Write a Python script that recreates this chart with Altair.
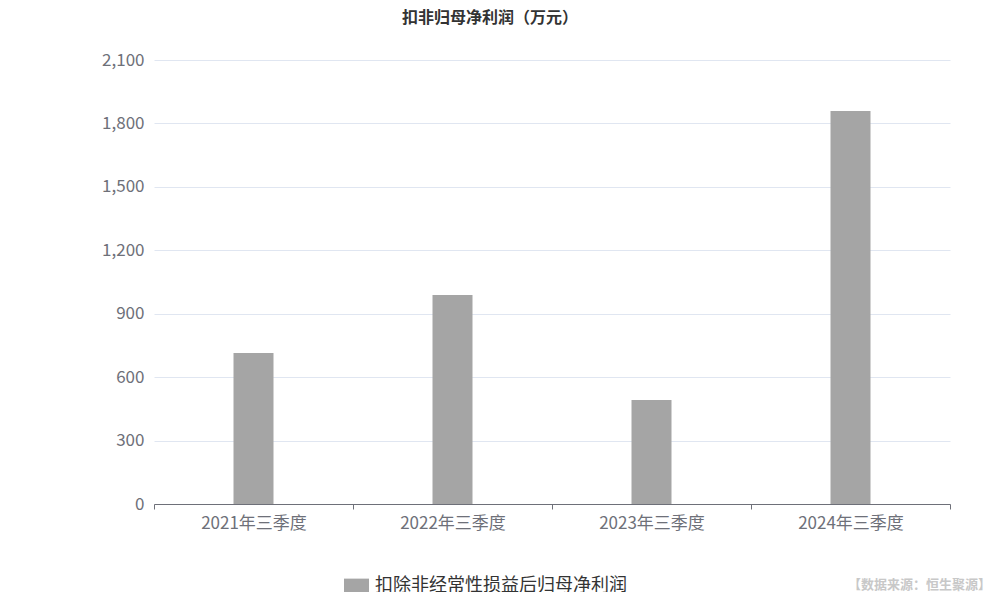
import altair as alt
import pandas as pd

categories = ["2021年三季度", "2022年三季度", "2023年三季度", "2024年三季度"]
values = [714, 988, 492, 1859]
series_name = "扣除非经常性损益后归母净利润"
title_text = "扣非归母净利润（万元）"
source_text = "【数据来源：恒生聚源】"
y_ticks = [0, 300, 600, 900, 1200, 1500, 1800, 2100]

FONT = "Noto Sans CJK SC"

df = pd.DataFrame({"period": categories, "value": values, "series": [series_name] * len(categories)})

W, H = 796, 444

bars = alt.Chart(df).mark_bar(size=40, color="#a5a5a5").encode(
    x=alt.X("period:N", sort=categories, title=None,
            scale=alt.Scale(paddingInner=0, paddingOuter=0),
            axis=alt.Axis(labelAngle=0, labelFontSize=17, labelColor="#6e7079", labelFont=FONT,
                          labelPadding=6, domainColor="#6e7079", tickColor="#6e7079",
                          tickSize=5, tickBand="extent", grid=False)),
    y=alt.Y("value:Q", title=None,
            scale=alt.Scale(domain=[0, 2100], nice=False),
            axis=alt.Axis(values=y_ticks, format=",d", labelFontSize=17, labelColor="#6e7079",
                          labelFont=FONT, labelPadding=10, domain=False, ticks=False,
                          grid=True, gridColor="#e0e6f1", gridWidth=1)),
    color=alt.Color("series:N", scale=alt.Scale(range=["#a5a5a5"]),
                    legend=alt.Legend(title=None, orient="none", legendX=190, legendY=513,
                                      direction="horizontal", labelFontSize=18, labelFont=FONT,
                                      labelColor="#333333", labelLimit=500,
                                      symbolType="M-1,-0.55 H1 V0.55 H-1 Z",
                                      symbolSize=625, symbolStrokeWidth=0, symbolOpacity=1,
                                      labelOffset=6)),
)

title_df = pd.DataFrame({"t": [title_text]})
title = alt.Chart(title_df).mark_text(fontSize=16, fontWeight="bold", font=FONT, color="#333333",
                                      align="center", baseline="middle").encode(
    text="t:N", x=alt.value(336), y=alt.value(-42))

src_df = pd.DataFrame({"t": [source_text]})
src = alt.Chart(src_df).mark_text(fontSize=13, fontWeight="bold", font=FONT, color="#c8c8c8",
                                  align="right", baseline="middle").encode(
    text="t:N", x=alt.value(837), y=alt.value(H + 81))

chart = alt.layer(bars, title, src).properties(
    width=W, height=H,
    padding={"left": 146, "top": 52, "right": 42, "bottom": 88},
    autosize=alt.AutoSizeParams(type="none"),
).configure(background="white").configure_view(stroke=None)

chart.save("out.html", embed_options={"renderer": "svg", "actions": False})
